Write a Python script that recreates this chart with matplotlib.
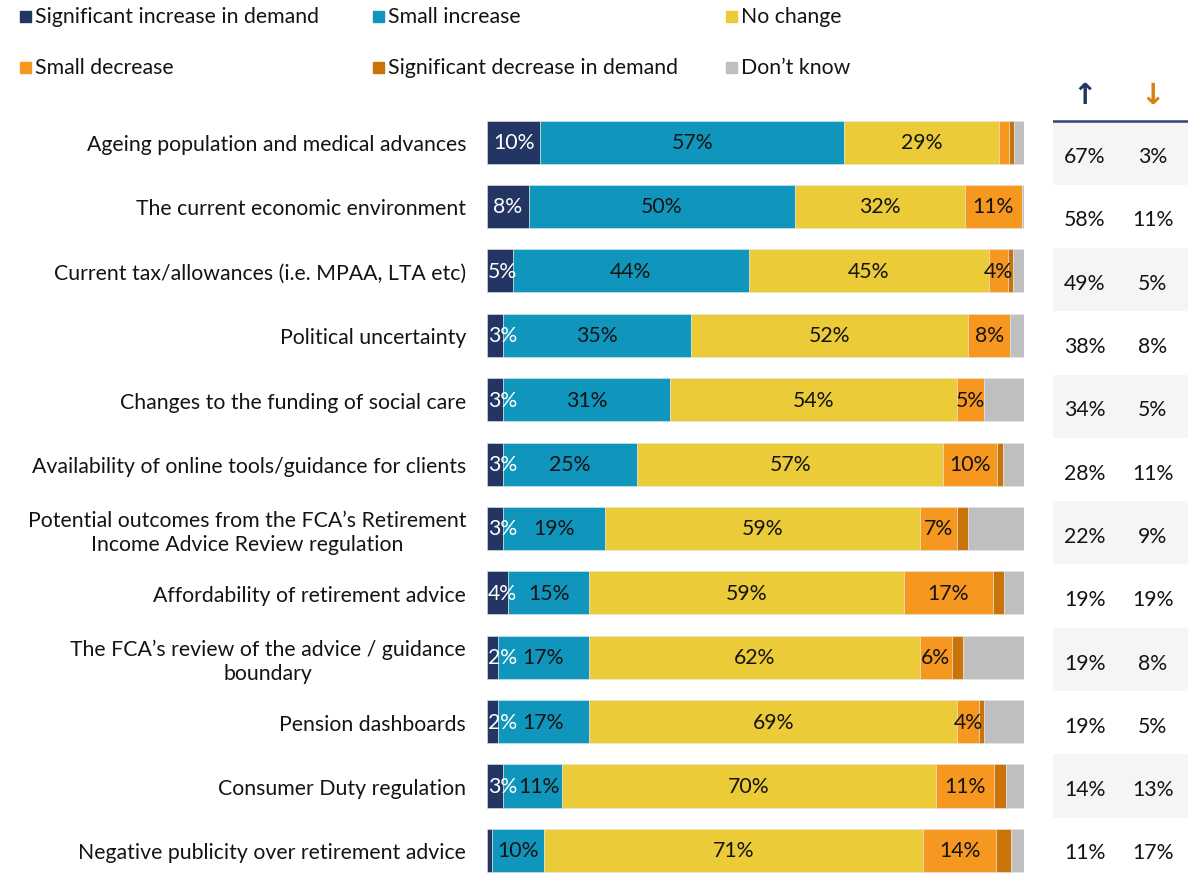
import matplotlib
matplotlib.use('Agg')
import matplotlib.pyplot as plt
from matplotlib.patches import Rectangle

plt.rcParams['font.family'] = ['Lato', 'DejaVu Sans']

# Drivers of demand for retirement advice, share of responses (%)
categories = [
    'Ageing population and medical advances',
    'The current economic environment',
    'Current tax/allowances (i.e. MPAA, LTA etc)',
    'Political uncertainty',
    'Changes to the funding of social care',
    'Availability of online tools/guidance for clients',
    'Potential outcomes from the FCA\u2019s Retirement\nIncome Advice Review regulation',
    'Affordability of retirement advice',
    'The FCA\u2019s review of the advice / guidance\nboundary',
    'Pension dashboards',
    'Consumer Duty regulation',
    'Negative publicity over retirement advice',
]
sig_inc = [9.9, 7.8, 4.8, 3.0, 3.0, 3.0, 3.0, 4.0, 2.0, 2.0, 3.0, 0.9]
small_inc = [56.6, 49.6, 44.0, 35.0, 31.0, 25.0, 19.0, 15.0, 17.0, 17.0, 11.0, 9.7]
no_change = [28.9, 31.6, 44.6, 51.6, 53.6, 57.0, 58.6, 58.6, 61.6, 68.6, 69.6, 70.6]
small_dec = [1.8, 10.6, 3.7, 7.8, 5.0, 10.0, 7.0, 16.6, 6.0, 4.0, 10.8, 13.6]
sig_dec = [1.0, 0.0, 0.9, 0.0, 0.0, 1.0, 2.0, 2.0, 2.0, 1.0, 2.2, 2.8]
dont_know = [1.8, 0.4, 2.0, 2.6, 7.4, 4.0, 10.4, 3.8, 11.4, 7.4, 3.4, 2.4]

# net columns on the right
up_total = [67, 58, 49, 38, 34, 28, 22, 19, 19, 19, 14, 11]
down_total = [3, 11, 5, 8, 5, 11, 9, 19, 8, 5, 13, 17]

series_names = ['Significant increase in demand', 'Small increase', 'No change',
                'Small decrease', 'Significant decrease in demand', 'Don\u2019t know']
colors = ['#233562', '#1096bc', '#ebcb37', '#f6971f', '#c97309', '#bfbfbf']
series = [sig_inc, small_inc, no_change, small_dec, sig_dec, dont_know]

FS = 15.3
TXT = '#141414'
W, H = 1192, 878
fig = plt.figure(figsize=(W / 100, H / 100), dpi=100)

# stacked bars
ax = fig.add_axes([487 / W, 0, 537 / W, 778 / H])
rows = list(range(len(categories)))
left = [0.0] * len(categories)
for k, (vals, col) in enumerate(zip(series, colors)):
    ax.barh(rows, vals, left=left, height=0.668, color=col,
            edgecolor='#e6e6e6', linewidth=0.4)
    if k < 4:
        for i, v in enumerate(vals):
            if v < 2:
                continue
            txt_col = 'white' if k == 0 else TXT
            if k == 0 and v < 6:
                # narrow first segment: start the label at the bar's edge
                ax.text(0.15, i, f'{v:.0f}%', ha='left', va='center',
                        fontsize=FS, color=txt_col)
                continue
            x = left[i] + v / 2
            if k == 1 and v < 13 and sig_inc[i] >= 2:
                x += 1.1  # make room for the neighbouring label
            ax.text(x, i, f'{v:.0f}%', ha='center', va='center',
                    fontsize=FS, color=txt_col)
    left = [a + b for a, b in zip(left, vals)]

ax.set_xlim(0, 100)
ax.set_ylim(11.413, -0.668)
ax.set_yticks(rows)
ax.set_yticklabels(categories, fontsize=FS, color=TXT)
for t in ax.get_yticklabels():
    t.set_multialignment('center')
ax.tick_params(axis='y', length=0, pad=15)
ax.set_xticks([])
for s in ax.spines.values():
    s.set_visible(False)

# up / down table
tax = fig.add_axes([1053 / W, 0, 135 / W, 798 / H])
tax.set_xlim(0, 1)
tax.set_ylim(11.438, -1.169)
tax.axis('off')
for i in rows:
    if i % 2 == 0:
        tax.axhspan(i - 0.5, i + 0.5, color='#f5f5f5', lw=0)
    tax.text(0.237, i + 0.05, f'{up_total[i]}%', ha='center', va='center',
             fontsize=FS, color=TXT)
    tax.text(0.74, i + 0.05, f'{down_total[i]}%', ha='center', va='center',
             fontsize=FS, color=TXT)
tax.axhline(-0.5, color='#2e4677', lw=1.8)
tax.text(0.237, -0.92, '\u2191', ha='center', va='center', fontsize=21,
         color='#233562', family='DejaVu Sans', fontweight='bold')
tax.text(0.74, -0.92, '\u2193', ha='center', va='center', fontsize=21,
         color='#d5820f', family='DejaVu Sans', fontweight='bold')

# legend, two rows of three
leg_x = [20, 373, 726]
leg_y = [17, 68]
for n, (name, col) in enumerate(zip(series_names, colors)):
    x = leg_x[n % 3]
    y = leg_y[n // 3]
    fig.patches.append(Rectangle((x / W, 1 - (y + 5.5) / H), 11 / W, 11 / H,
                                 transform=fig.transFigure, color=col))
    fig.text((x + 15) / W, 1 - y / H, name, ha='left', va='center',
             fontsize=FS, color=TXT)

fig.savefig('out.png', dpi=100)
